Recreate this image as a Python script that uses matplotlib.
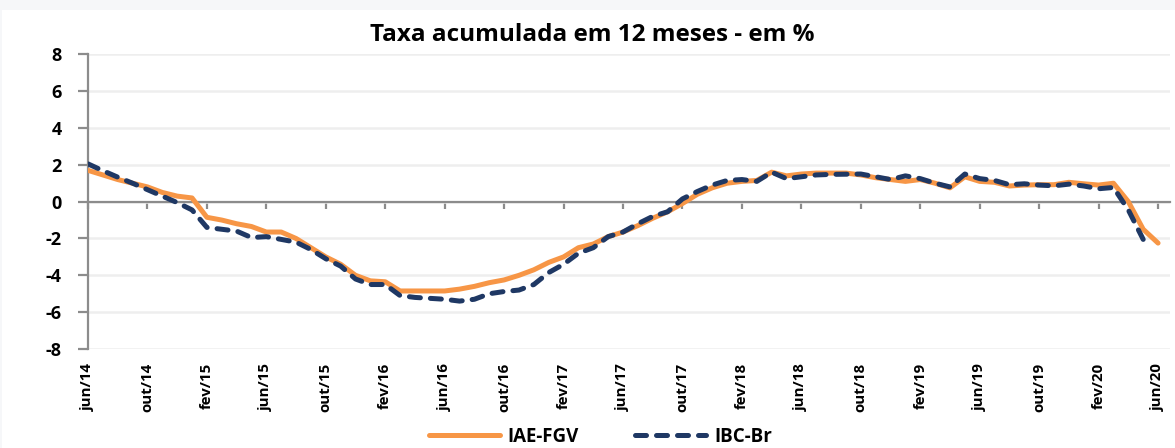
import matplotlib
matplotlib.use('Agg')
import matplotlib.pyplot as plt
from matplotlib.patches import Rectangle
import numpy as np

# dados mensais, jun/14 a jun/20 (IBC-Br vai ate abr/20)
iae_fgv = [1.7, 1.45, 1.2, 1.0, 0.8, 0.5, 0.3, 0.2, -0.85, -1.0,
           -1.2, -1.35, -1.65, -1.65, -2.0, -2.5, -3.0, -3.4, -4.0, -4.3,
           -4.35, -4.85, -4.85, -4.85, -4.85, -4.75, -4.6, -4.4, -4.25, -4.0,
           -3.7, -3.3, -3.0, -2.5, -2.3, -1.9, -1.65, -1.3, -0.9, -0.55,
           -0.1, 0.4, 0.75, 1.0, 1.1, 1.15, 1.6, 1.4, 1.5, 1.55,
           1.55, 1.55, 1.45, 1.3, 1.2, 1.1, 1.2, 1.0, 0.75, 1.35,
           1.1, 1.05, 0.85, 0.9, 0.92, 0.92, 1.05, 0.97, 0.9, 1.0,
           0.0, -1.5, -2.25]
ibc_br = [2.05, 1.68, 1.33, 1.0, 0.65, 0.3, -0.05, -0.45, -1.4, -1.5,
          -1.6, -1.95, -1.9, -2.05, -2.2, -2.6, -3.1, -3.5, -4.2, -4.5,
          -4.5, -5.1, -5.2, -5.25, -5.3, -5.4, -5.3, -5.0, -4.88, -4.8,
          -4.5, -3.85, -3.4, -2.8, -2.5, -1.9, -1.65, -1.2, -0.8, -0.55,
          0.15, 0.55, 0.9, 1.15, 1.2, 1.1, 1.6, 1.25, 1.35, 1.45,
          1.48, 1.49, 1.5, 1.35, 1.2, 1.4, 1.25, 1.0, 0.8, 1.5,
          1.25, 1.15, 0.92, 0.97, 0.9, 0.86, 0.95, 0.85, 0.7, 0.77,
          -0.45, -2.05]
tick_labels = ['jun/14', 'out/14', 'fev/15', 'jun/15', 'out/15', 'fev/16',
               'jun/16', 'out/16', 'fev/17', 'jun/17', 'out/17', 'fev/18',
               'jun/18', 'out/18', 'fev/19', 'jun/19', 'out/19', 'fev/20',
               'jun/20']
y_ticks = [8, 6, 4, 2, 0, -2, -4, -6, -8]

plt.rcParams['font.family'] = ['Open Sans', 'DejaVu Sans']
plt.rcParams['font.weight'] = 'bold'

fig = plt.figure(figsize=(11.75, 4.48), dpi=100)
fig.patch.set_facecolor('#f6f7f9')
# area branca do grafico (faixa cinza no topo como no print)
fig.patches.append(Rectangle((0.002, 0), 0.998, 0.977, transform=fig.transFigure,
                             facecolor='white', edgecolor='none', zorder=-10))
ax = fig.add_axes([0.0749, 0.221, 0.9208, 0.6578])
ax.set_facecolor('white')

x_iae = np.arange(len(iae_fgv))
x_ibc = np.arange(len(ibc_br))
ax.plot(x_iae, iae_fgv, color='#F79646', lw=3.6, solid_capstyle='round',
        solid_joinstyle='round', label='IAE-FGV', zorder=3)
ax.plot(x_ibc, ibc_br, color='#1F3864', lw=3.6, ls=(0, (2.2, 2.0)),
        dash_capstyle='round', dash_joinstyle='round', label='IBC-Br', zorder=4)

ax.set_xlim(0, 72.8)
ax.set_ylim(-8, 8)
ax.set_yticks(y_ticks)
ax.set_yticklabels([str(v) for v in y_ticks], fontsize=13, fontweight='bold')
ax.grid(axis='y', color='#eeeeee', lw=1.8, zorder=0)

# eixo x cruzando em zero
tick_pos = np.arange(0, 73, 4)
ax.set_xticks(tick_pos)
ax.spines['bottom'].set_position(('data', 0))
ax.spines['bottom'].set_color('#8c8c8c')
ax.spines['bottom'].set_linewidth(1.6)
ax.spines['left'].set_color('#8c8c8c')
ax.spines['left'].set_linewidth(1.6)
ax.spines['top'].set_visible(False)
ax.spines['right'].set_visible(False)
ax.tick_params(axis='x', direction='out', length=5, width=1.6, color='#8c8c8c',
               labelbottom=False)
ax.tick_params(axis='y', direction='out', length=7, width=1.6, color='#8c8c8c',
               pad=12)

# rotulos de data abaixo da area do grafico
sec = ax.secondary_xaxis(location=0)
sec.set_xticks(tick_pos)
sec.set_xticklabels(tick_labels, rotation=90, fontsize=10.8, fontweight='bold')
sec.tick_params(length=0, pad=10)
sec.spines['bottom'].set_visible(False)

fig.text(0.504, 0.922, 'Taxa acumulada em 12 meses - em %', ha='center',
         va='center', fontsize=17.5, fontweight='bold')

leg = fig.legend(loc='center', bbox_to_anchor=(0.511, 0.025), ncol=2,
                 frameon=False, handlelength=3.8,
                 columnspacing=3.0, handletextpad=0.4,
                 prop={'weight': 'bold', 'size': 13.5})

fig.savefig('out.png', dpi=100, facecolor=fig.get_facecolor())
